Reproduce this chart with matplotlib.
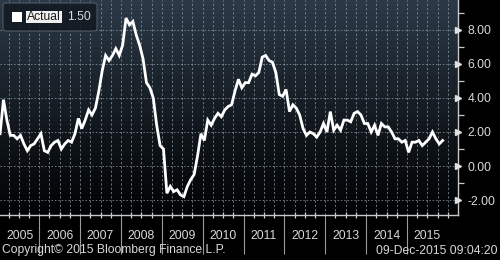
import numpy as np
import matplotlib
matplotlib.use("Agg")
import matplotlib.pyplot as plt
from matplotlib.patches import FancyBboxPatch, Rectangle
import matplotlib.transforms as mtransforms

# ---- data: China CPI YoY (%), monthly Jan 2005 .. Nov 2015 ----
years = list(range(2005, 2016))
cpi_2005 = [1.9, 3.9, 2.7, 1.8, 1.8, 1.6, 1.8, 1.3, 0.9, 1.2, 1.3, 1.6]
cpi_2006 = [1.9, 0.9, 0.8, 1.2, 1.4, 1.5, 1.0, 1.3, 1.5, 1.4, 1.9, 2.8]
cpi_2007 = [2.2, 2.7, 3.3, 3.0, 3.4, 4.4, 5.6, 6.5, 6.2, 6.5, 6.9, 6.5]
cpi_2008 = [7.1, 8.7, 8.3, 8.5, 7.7, 7.1, 6.3, 4.9, 4.6, 4.0, 2.4, 1.2]
cpi_2009 = [1.0, -1.6, -1.2, -1.5, -1.4, -1.7, -1.8, -1.2, -0.8, -0.5, 0.6, 1.9]
cpi_2010 = [1.5, 2.7, 2.4, 2.8, 3.1, 2.9, 3.3, 3.5, 3.6, 4.4, 5.1, 4.6]
cpi_2011 = [4.9, 4.9, 5.4, 5.3, 5.5, 6.4, 6.5, 6.2, 6.1, 5.5, 4.2, 4.1]
cpi_2012 = [4.5, 3.2, 3.6, 3.4, 3.0, 2.2, 1.8, 2.0, 1.9, 1.7, 2.0, 2.5]
cpi_2013 = [2.0, 3.2, 2.1, 2.4, 2.1, 2.7, 2.7, 2.6, 3.1, 3.2, 3.0, 2.5]
cpi_2014 = [2.5, 2.0, 2.4, 1.8, 2.5, 2.3, 2.3, 2.0, 1.6, 1.6, 1.4, 1.5]
cpi_2015 = [0.8, 1.4, 1.4, 1.5, 1.2, 1.4, 1.6, 2.0, 1.6, 1.3, 1.5]
series_name = "Actual"
y_ticks = [-2, 0, 2, 4, 6, 8]
copyright_text = "Copyright\u00a9 2015 Bloomberg Finance L.P."
stamp_text = "09-Dec-2015 09:04:20"

values = np.array(cpi_2005 + cpi_2006 + cpi_2007 + cpi_2008 + cpi_2009 + cpi_2010 +
                  cpi_2011 + cpi_2012 + cpi_2013 + cpi_2014 + cpi_2015)
t = 2005 + (np.arange(len(values)) + 0.5) / 12.0

FONT = "Liberation Sans"
FS = 8.7
TXT = "#d8d8d8"
GRID = "#8a96a2"

fig = plt.figure(figsize=(5.0, 2.6), dpi=100, facecolor="black")
ax = fig.add_axes([0.0, 45 / 260, 458 / 500, 215 / 260])
x0, x1 = 2005.04, 2016.25
y0, y1 = -2.88, 9.76
ax.set_xlim(x0, x1)
ax.set_ylim(y0, y1)

# gradient background
grad = np.linspace(0, 1, 256).reshape(-1, 1)
top = np.array([0x2c, 0x3a, 0x48]) / 255
bot = np.array([0x02, 0x03, 0x04]) / 255
img = (grad[..., None] ** 1.1) * top + (1 - grad[..., None] ** 1.1) * bot
ax.imshow(img, extent=[x0, x1, y0, y1], origin="lower", aspect="auto", zorder=0)

# grid
for q in np.arange(2005.25, 2016.25, 0.25):
    ax.axvline(q, color=GRID, lw=0.7, ls=(0, (2.2, 2.2)), alpha=0.75, zorder=1)
for yv in y_ticks:
    ax.axhline(yv, color=GRID, lw=0.7, ls=(0, (1.5, 2.0)), alpha=0.8, zorder=1)

ax.plot(t, values, color="white", lw=2.0, zorder=3, solid_joinstyle="miter")

# spines
for s in ["top", "left"]:
    ax.spines[s].set_visible(False)
for s in ["right", "bottom"]:
    ax.spines[s].set_color("#c8c8c8")
    ax.spines[s].set_linewidth(1.0)

# y axis on right
ax.yaxis.tick_right()
ax.set_yticks(y_ticks)
ax.set_yticklabels([f"{v:.2f}" for v in y_ticks], fontfamily=FONT, fontsize=FS, color=TXT)
ax.set_yticks(np.arange(-1, 10, 2), minor=True)
ax.tick_params(axis="y", which="major", length=0, pad=7)
ax.tick_params(axis="y", which="minor", length=4, width=0.9, color="#c8c8c8", direction="out")
tr_y = mtransforms.blended_transform_factory(ax.transAxes, ax.transData)
ax.plot([1.0] * len(y_ticks), y_ticks, transform=tr_y, ls="", marker=">", ms=4.5,
        color="#e0e0e0", clip_on=False, zorder=5)

# x axis: long ticks at year boundaries, quarter ticks
ax.set_xticks(years[1:])
ax.set_xticklabels([])
ax.set_xticks(np.arange(2005.25, 2016.25, 0.25), minor=True)
ax.tick_params(axis="x", which="major", length=28, width=0.8, color="#9a9a9a", direction="out")
ax.tick_params(axis="x", which="minor", length=4, width=0.9, color="#d0d0d0", direction="inout")

tr_x = mtransforms.blended_transform_factory(ax.transData, fig.transFigure)
for yr in years:
    c = (max(yr, x0) + min(yr + 1, x1)) / 2
    ax.text(c, 1 - 236 / 260, str(yr), transform=tr_x, ha="center", va="center",
            fontfamily=FONT, fontsize=FS, color=TXT)

fig.text(2 / 500, 1 - 250 / 260, copyright_text, ha="left", va="center",
         fontfamily=FONT, fontsize=FS, color=TXT)
fig.text(497 / 500, 1 - 251 / 260, stamp_text, ha="right", va="center",
         fontfamily=FONT, fontsize=FS, color=TXT)

# legend box
W, H = 500.0, 260.0
box = FancyBboxPatch((3 / W, 1 - 31 / H), 94 / W, 28 / H, boxstyle="round,pad=0,rounding_size=0.008",
                     transform=fig.transFigure, facecolor="#121a22", edgecolor="#555d66",
                     lw=0.8, alpha=0.9, zorder=10)
fig.patches.append(box)
fig.patches.append(Rectangle((12 / W, 1 - 22 / H), 10 / W, 10 / H, transform=fig.transFigure,
                             facecolor="white", edgecolor="none", zorder=11))
fig.patches.append(Rectangle((26 / W, 1 - 23 / H), 36 / W, 12 / H, transform=fig.transFigure,
                             facecolor="#f0f0f0", edgecolor="none", zorder=11))
fig.text(44 / W, 1 - 17 / H, series_name, ha="center", va="center", fontfamily=FONT,
         fontsize=FS, color="#1a1a1a", zorder=12)
fig.text(67 / W, 1 - 17 / H, f"{values[-1]:.2f}", ha="left", va="center", fontfamily=FONT,
         fontsize=FS, color=TXT, zorder=12)

fig.savefig("out.png", dpi=100, facecolor="black")
